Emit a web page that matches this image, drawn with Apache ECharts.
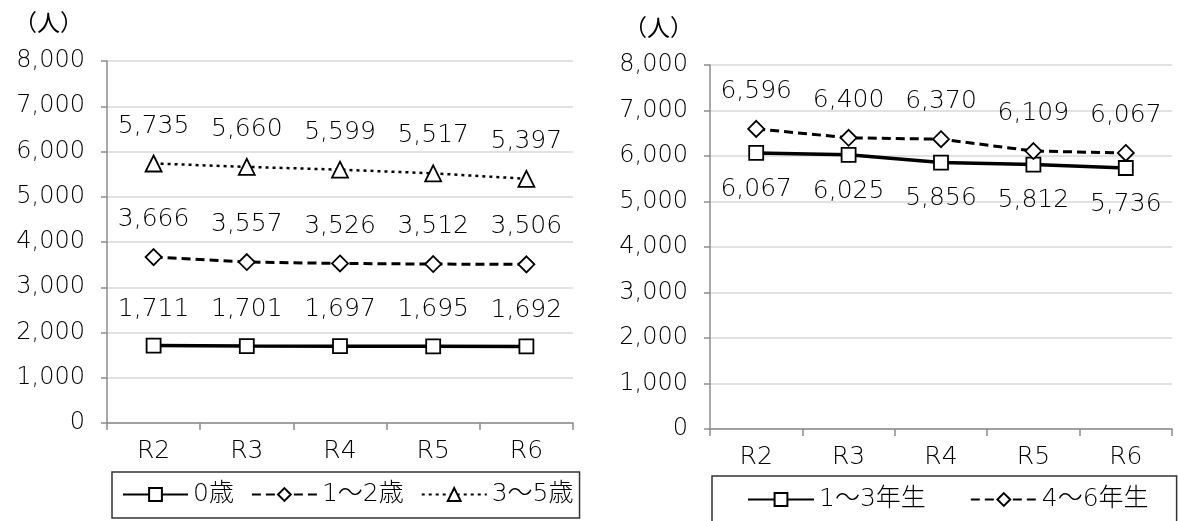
<!DOCTYPE html>
<html><head><meta charset="utf-8">
<script src="https://cdn.jsdelivr.net/npm/echarts@6/dist/echarts.min.js"></script>
<style>html,body{margin:0;padding:0;background:#fff}#c{width:1178px;height:521px}</style>
</head><body><div id="c"></div>
<script>
// ---- data ----
const categories = ['R2', 'R3', 'R4', 'R5', 'R6'];
const leftNames = ['0歳', '1～2歳', '3～5歳'];
const age0 = [1711, 1701, 1697, 1695, 1692];
const age1to2 = [3666, 3557, 3526, 3512, 3506];
const age3to5 = [5735, 5660, 5599, 5517, 5397];
const rightNames = ['1～3年生', '4～6年生'];
const grade1to3 = [6067, 6025, 5856, 5812, 5736];
const grade4to6 = [6596, 6400, 6370, 6109, 6067];
const yMin = 0, yMax = 8000, yStep = 1000;
const unitLabel = '（人）';

const FONT = 'DejaVu Sans, Noto Sans CJK JP, sans-serif';
const FW = 200;
const fmt = v => String(v).replace(/\B(?=(\d{3})+(?!\d))/g, ',');

function xAxis(gi) {
  return {
    type: 'category', gridIndex: gi, data: categories, boundaryGap: true,
    axisLine: { lineStyle: { color: '#8c8c8c', width: 1.5 } },
    axisTick: { show: true, length: 7, lineStyle: { color: '#8c8c8c', width: 1.5 } },
    axisLabel: { color: '#000', fontSize: 25, fontFamily: FONT, fontWeight: FW, margin: 16 },
    splitLine: { show: false }
  };
}
function yAxis(gi) {
  return {
    type: 'value', gridIndex: gi, min: yMin, max: yMax, interval: yStep,
    axisLine: { show: true, lineStyle: { color: '#8c8c8c', width: 1.5 } },
    axisTick: { show: true, length: 6, lineStyle: { color: '#8c8c8c', width: 1.5 } },
    axisLabel: { color: '#000', fontSize: 24, fontFamily: FONT, fontWeight: FW, margin: 22, formatter: fmt },
    splitLine: { show: true, lineStyle: { color: '#d9d9d9', width: 1.5 } }
  };
}
function series(name, data, gi, symbol, lineType, lineWidth, labelPos) {
  return {
    type: 'line', name, data, xAxisIndex: gi, yAxisIndex: gi,
    symbol, symbolSize: symbol === 'rect' ? 14 : 16,
    itemStyle: { color: '#fff', borderColor: '#000', borderWidth: 1.8 },
    lineStyle: { color: '#000', width: lineWidth, type: lineType },
    label: {
      show: true, position: labelPos, distance: 16, color: '#000',
      fontSize: 25, fontFamily: FONT, fontWeight: FW, formatter: p => fmt(p.value)
    },
    emphasis: { disabled: true },
    animation: false
  };
}

const chart = echarts.init(document.getElementById('c'), null, { renderer: 'canvas' });
chart.setOption({
  backgroundColor: '#fff',
  animation: false,
  textStyle: { fontFamily: FONT },
  grid: [
    { left: 107, top: 61, width: 466, height: 362 },
    { left: 710, top: 65, width: 462, height: 364 }
  ],
  xAxis: [xAxis(0), xAxis(1)],
  yAxis: [yAxis(0), yAxis(1)],
  legend: [
    {
      data: leftNames, left: 112, top: 472, orient: 'horizontal',
      itemWidth: 65, itemHeight: 16, itemGap: 17,
      padding: [10, 6, 11, 10],
      borderColor: '#333', borderWidth: 1.5,
      textStyle: { color: '#000', fontSize: 25, fontFamily: FONT, fontWeight: FW },
      selectedMode: false
    },
    {
      data: rightNames, left: 712, top: 476, orient: 'horizontal',
      itemWidth: 66, itemHeight: 16, itemGap: 44,
      padding: [11, 28, 30, 35],
      borderColor: '#333', borderWidth: 1.5,
      textStyle: { color: '#000', fontSize: 25, fontFamily: FONT, fontWeight: FW },
      selectedMode: false
    }
  ],
  graphic: [
    { type: 'text', left: 14, top: 14, style: { text: unitLabel, fontSize: 23, fontFamily: FONT, fill: '#000' } },
    { type: 'text', left: 624, top: 19, style: { text: unitLabel, fontSize: 23, fontFamily: FONT, fill: '#000' } }
  ],
  series: [
    series(leftNames[0], age0, 0, 'rect', 'solid', 3.5, 'top'),
    series(leftNames[1], age1to2, 0, 'diamond', [9, 5], 3, 'top'),
    series(leftNames[2], age3to5, 0, 'triangle', [3, 4], 2.5, 'top'),
    series(rightNames[0], grade1to3, 1, 'rect', 'solid', 3.5, 'bottom'),
    series(rightNames[1], grade4to6, 1, 'diamond', [9, 5], 3, 'top')
  ]
});
</script>
</body></html>
